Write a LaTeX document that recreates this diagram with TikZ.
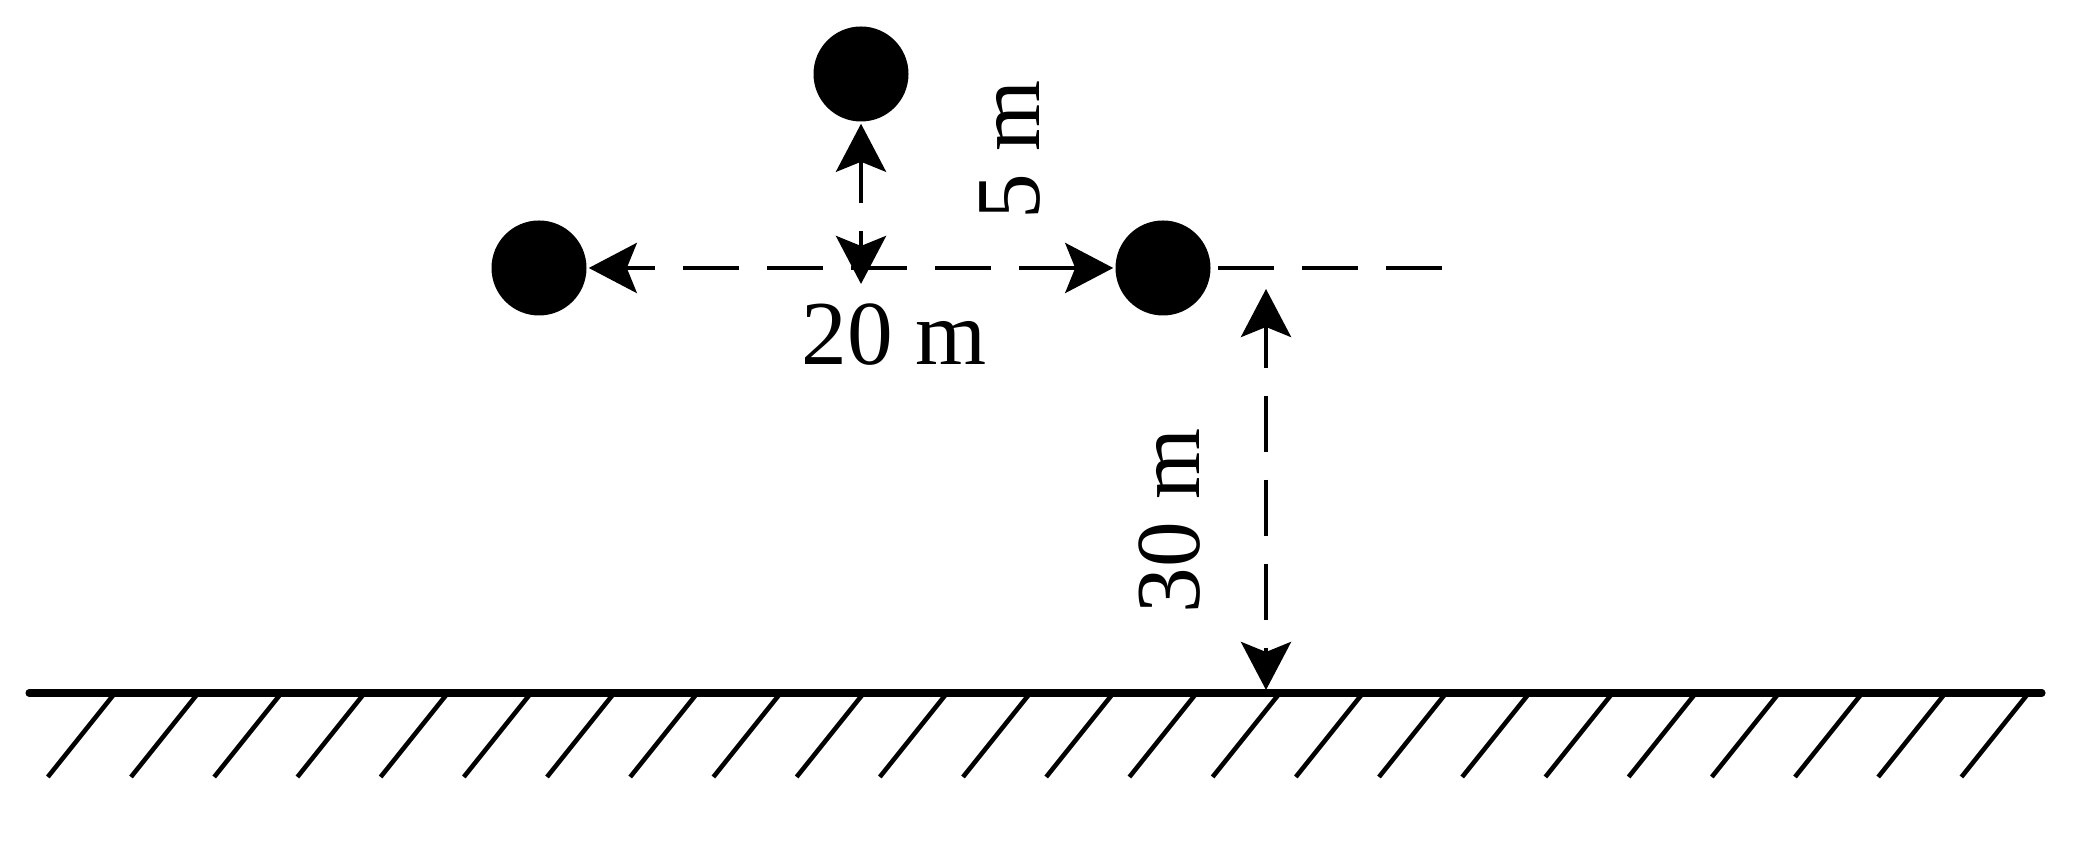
\documentclass[tikz,border=0pt]{standalone}
\usepackage{fontspec}
\setmainfont{Liberation Serif}
\usetikzlibrary{%
  arrows.meta,% Stealth tips
  positioning%
}

\begin{document}
\begin{tikzpicture}[
    >={Stealth[length=4.8mm,width=5mm,inset=1mm]},
    line width=1.3pt,
    ball/.style={circle,fill=black,inner sep=0pt,minimum size=9.5mm},
    dimline/.style={dash pattern=on 5.6mm off 2.8mm},
    dimtext/.style={font=\fontsize{26}{30}\selectfont,inner sep=0pt},
    groundline/.style={line width=2pt,line cap=round},
    hatch/.style={line width=1.3pt}
  ]
    \useasboundingbox (0,0) rectangle (20.90,8.41);

    % the three balls
    \node[ball] (top)   at (8.61,7.67) {};
    \node[ball] (left)  at (5.39,5.73) {};
    \node[ball] (right) at (11.63,5.73) {};

    % points for the dimension lines
    \coordinate (mid)   at (8.61,5.57);
    \coordinate (ext1)  at (12.18,5.73);
    \coordinate (ext2)  at (14.42,5.73);
    \coordinate (hgt)   at (12.66,5.52);
    \coordinate (foot)  at (12.66,1.51);
    \coordinate (gl)    at (0.29,1.48);
    \coordinate (gr)    at (20.42,1.48);

    % ground
    \draw[groundline] (gl) -- (gr);
    \foreach \i in {0,...,23}
        \draw[hatch] ({1.15+0.832*\i},1.48) -- +(-0.672,-0.84);

    % dimensions
    \draw[dimline,dash phase=2.6mm,<->] (left.east) -- (right.west);
    \draw[dimline,dash phase=1.3mm,<->] (top.south) -- (mid);
    \draw[dimline] (ext1) -- (ext2);
    \draw[dimline,dash phase=1.4mm,<->] (hgt) -- (foot);

    \node[dimtext,anchor=base] (l20) at (8.94,4.76) {20 m};
    \node[dimtext,anchor=base,rotate=90] (l5) at (10.39,6.91) {5 m};
    \node[dimtext,anchor=base,rotate=90] (l30) at (11.99,3.20) {30 m};
\end{tikzpicture}
\end{document}
